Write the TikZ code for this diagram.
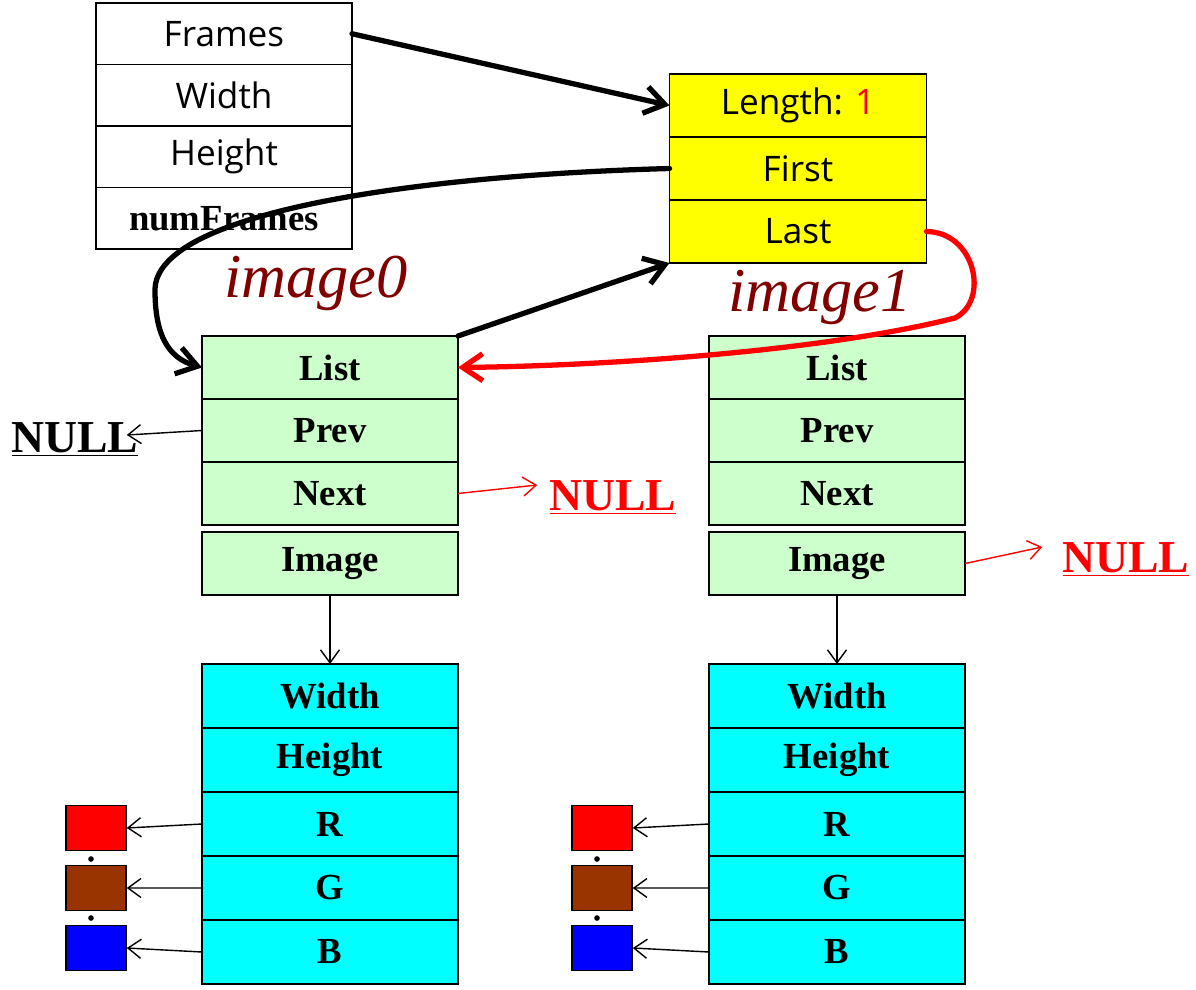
\documentclass[tikz,border=0pt]{standalone}
\usepackage{fontspec}
\setmainfont{Liberation Serif}
\newfontfamily\uifont{Open Sans}
\usepackage{xcolor}
\usetikzlibrary{arrows.meta, positioning}

\definecolor{listyellow}{RGB}{255,255,0}
\definecolor{nodegreen}{RGB}{204,255,204}
\definecolor{pixcyan}{RGB}{0,255,255}
\definecolor{darkred}{RGB}{128,0,0}
\definecolor{pixbrown}{RGB}{153,51,0}

\begin{document}
\begin{tikzpicture}[x=0.2mm, y=-0.2mm,
  node distance=0pt,
  field/.style={draw, line width=0.9pt, minimum width=5.12cm, minimum height=1.26cm, inner sep=0pt, outer sep=0pt, align=center},
  metafield/.style={field, minimum height=1.23cm, font=\uifont\fontsize{20}{22}\selectfont},
  listfield/.style={field, fill=listyellow, font=\uifont\fontsize{20}{22}\selectfont},
  nodefield/.style={field, fill=nodegreen, font=\bfseries\fontsize{20.9}{24}\selectfont},
  pixfield/.style={field, fill=pixcyan, minimum height=1.28cm, font=\bfseries\fontsize{20.9}{24}\selectfont},
  chan/.style={draw, line width=0.9pt, minimum width=1.2cm, minimum height=0.9cm, inner sep=0pt},
  nulltext/.style={inner sep=0pt, font=\bfseries\fontsize{26}{30}\selectfont},
  imgname/.style={text=darkred, font=\itshape\fontsize{35.5}{40}\selectfont},
  thin arrow/.style={-{Straight Barb[length=2.6mm, width=3.8mm]}, line width=0.8pt},
  thick arrow/.style={-{Straight Barb[length=4mm, width=5.4mm]}, line width=3pt, line cap=round}
]
\useasboundingbox (0,0) rectangle (1196,990);

% frame container
\node[metafield, anchor=north] (frames) at (224,3) {Frames};
\node[metafield, below=of frames] (fwidth) {Width};
\node[metafield, below=of fwidth] (fheight) {Height};
\node[metafield, below=of fheight, font=\bfseries\fontsize{20.9}{24}\selectfont] (numframes) {numFrames};

% list header
\node[listfield, anchor=north, minimum width=5.14cm] (len) at (798,74) {Length: \textcolor{red}{1}};
\node[listfield, below=of len, minimum width=5.14cm] (first) {First};
\node[listfield, below=of first, minimum width=5.14cm] (last) {Last};

% list nodes
\foreach \i/\x in {0/330, 1/837} {
  \node[nodefield, anchor=north] (list\i) at (\x,336) {List};
  \node[nodefield, below=of list\i] (prev\i) {Prev};
  \node[nodefield, below=of prev\i] (next\i) {Next};
  \node[nodefield, below=4pt of next\i] (image\i) {Image};
}
\node[imgname] (name0) at (316,283) {image0};
\node[imgname] (name1) at (820,297) {image1};

% pixel data
\foreach \i/\x/\s in {0/330/96, 1/837/602} {
  \node[pixfield, anchor=north] (w\i) at (\x,664) {Width};
  \node[pixfield, below=of w\i] (h\i) {Height};
  \node[pixfield, below=of h\i] (r\i) {R};
  \node[pixfield, below=of r\i] (g\i) {G};
  \node[pixfield, below=of g\i] (b\i) {B};
  \node[chan, fill=red] (red\i) at (\s,828) {};
  \node[chan, fill=pixbrown] (brown\i) at (\s,888) {};
  \node[chan, fill=blue] (blue\i) at (\s,948) {};
  \fill (\s-5,859) circle (1.6pt) (\s-5,918) circle (1.6pt);
  \draw[thin arrow] (image\i) -- (w\i);
  \draw[thin arrow] (r\i.west) -- (red\i.east);
  \draw[thin arrow] (g\i.west) -- (brown\i.east);
  \draw[thin arrow] (b\i.west) -- (blue\i.east);
}

% NULL pointers
\node[nulltext, anchor=base] (nullprev) at (75,452) {\underline{NULL}};
\node[nulltext, anchor=base, text=red] (nullnext) at (613,510) {\underline{NULL}};
\node[nulltext, anchor=base, text=red] (nullimg) at (1126,572) {\underline{NULL}};
\draw[thin arrow] (prev0.west) -- ([xshift=-2.4mm, yshift=0.8mm]nullprev.east);
\draw[thin arrow, red] (next0.east) -- ([xshift=-2.4mm, yshift=2.4mm]nullnext.west);
\draw[thin arrow, red] (image1.east) -- ([xshift=-4mm, yshift=2.4mm]nullimg.west);

% links between container, list and nodes
\draw[thick arrow] (frames.east) -- (len.west);
\draw[thick arrow] (list0.north east) -- (last.south west);
\draw[thick arrow] (first.west) .. controls (400,176) and (155,215) .. (155,290)
  .. controls (155,335) and (168,358) .. (list0.west);
\draw[thick arrow, red] (last.east) .. controls (975,232) and (990,300) .. (955,318)
  .. controls (820,352) and (600,366) .. (list0.east);

\end{tikzpicture}
\end{document}
